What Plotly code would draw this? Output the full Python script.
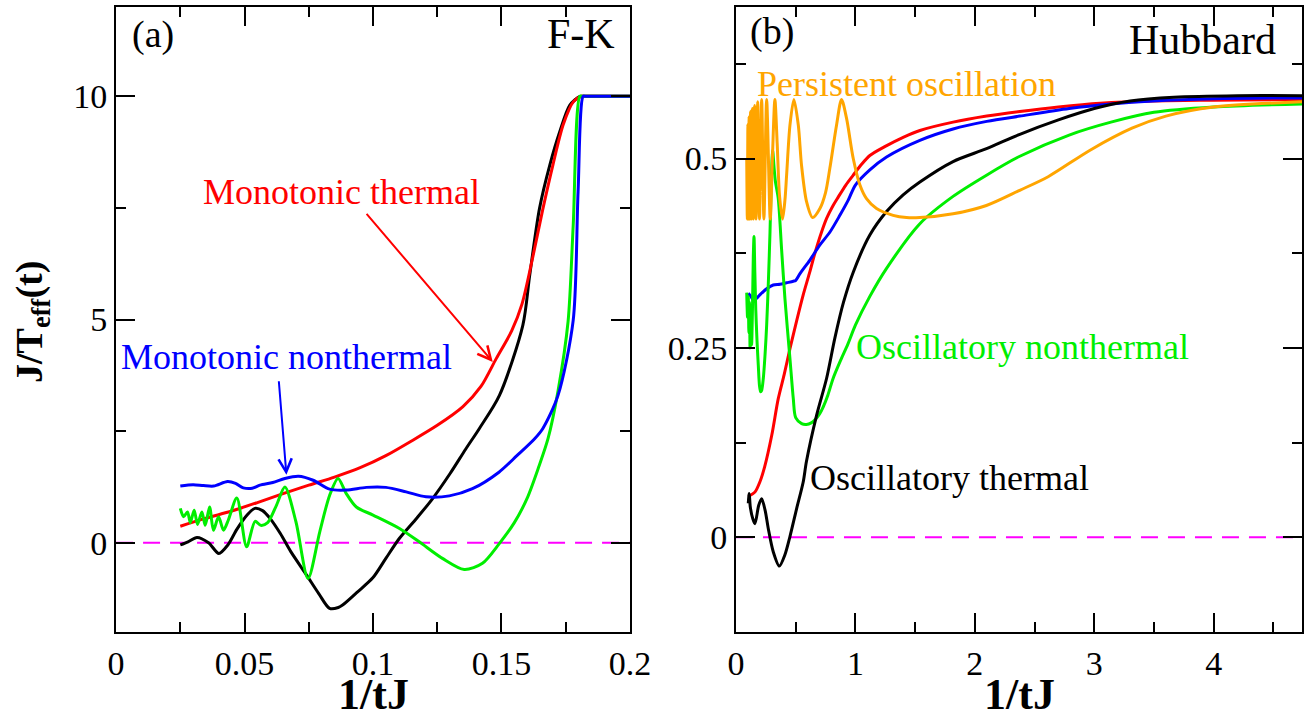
import plotly.graph_objects as go

FONT = "Liberation Serif"

# ---------------- Panel (a): F-K ----------------
fk_red_x = [0.025, 0.035, 0.045, 0.055, 0.065, 0.075, 0.085, 0.095, 0.105, 0.115, 0.125, 0.135,
            0.142, 0.148, 0.154, 0.158, 0.162, 0.166, 0.170, 0.174, 0.178, 0.1812, 0.1822, 0.2]
fk_red_y = [0.37, 0.55, 0.71, 0.90, 1.10, 1.29, 1.47, 1.68, 1.95, 2.28, 2.63, 3.05,
            3.50, 4.13, 4.75, 5.35, 6.35, 7.45, 8.46, 9.36, 9.88, 10.0, 10.0, 10.0]

fk_black_x = [0.025, 0.028, 0.0315, 0.036, 0.040, 0.0435, 0.047, 0.051, 0.054, 0.057, 0.060, 0.064,
              0.068, 0.0741, 0.079, 0.0831, 0.0865, 0.0883, 0.094, 0.100, 0.105, 0.1103, 0.117,
              0.1232, 0.130, 0.1361, 0.1414, 0.1492, 0.1583, 0.161, 0.1648, 0.1688, 0.1727,
              0.1766, 0.1805, 0.1815, 0.2]
fk_black_y = [-0.05, 0.02, 0.12, 0.0, -0.24, -0.05, 0.30, 0.62, 0.77, 0.72, 0.54, 0.20,
              -0.20, -0.72, -1.15, -1.47, -1.45, -1.39, -1.10, -0.78, -0.35, 0.10, 0.55,
              0.99, 1.55, 2.10, 2.56, 3.30, 4.87, 6.00, 7.49, 8.46, 9.21,
              9.80, 10.0, 10.0, 10.0]

fk_green_x = [0.025, 0.0263, 0.0278, 0.0289, 0.0304, 0.0317, 0.0334, 0.0347, 0.0364, 0.0379, 0.0399,
              0.0418, 0.0437, 0.0470, 0.0508, 0.0541, 0.0563, 0.0590, 0.0625, 0.0657, 0.070, 0.0747,
              0.0793, 0.0831, 0.0864, 0.0896, 0.0935, 0.100, 0.1103, 0.118, 0.127, 0.1355, 0.1426,
              0.149, 0.155, 0.160, 0.1645, 0.1681, 0.172, 0.1759, 0.1779, 0.1805, 0.1815, 0.2]
fk_green_y = [0.77, 0.58, 0.69, 0.45, 0.73, 0.41, 0.69, 0.39, 0.80, 0.28, 0.58,
              0.28, 0.51, 1.00, -0.09, 0.48, 0.39, 0.45, 0.85, 1.25, 0.47, -0.80,
              0.25, 1.06, 1.44, 1.10, 0.80, 0.62, 0.32, 0.02, -0.35, -0.60, -0.46,
              -0.03, 0.45, 1.00, 1.70, 2.33, 3.40, 4.95, 7.10, 10.0, 10.0, 10.0]

fk_blue_x = [0.025, 0.030, 0.034, 0.038, 0.0434, 0.0465, 0.0495, 0.053, 0.056, 0.061, 0.0657, 0.071,
             0.0767, 0.0831, 0.0896, 0.0974, 0.105, 0.1129, 0.1206, 0.1297, 0.1387, 0.149, 0.156,
             0.1629, 0.1661, 0.172, 0.1779, 0.1798, 0.1818, 0.1828, 0.2]
fk_blue_y = [1.27, 1.30, 1.28, 1.27, 1.37, 1.33, 1.23, 1.22, 1.29, 1.35, 1.44, 1.49,
             1.40, 1.20, 1.18, 1.24, 1.24, 1.14, 1.03, 1.05, 1.21, 1.58, 1.95,
             2.33, 2.56, 3.30, 4.98, 7.86, 10.0, 10.0, 10.0]

fk_zero_x = [0.0, 0.2]
fk_zero_y = [0.0, 0.0]

fk_xticks = [0, 0.05, 0.1, 0.15, 0.2]
fk_xtick_text = ["0", "0.05", "0.1", "0.15", "0.2"]
fk_yticks = [0, 5, 10]
fk_ytick_text = ["0", "5", "10"]

# ---------------- Panel (b): Hubbard ----------------
hb_red_x = [0.103, 0.16, 0.20, 0.24, 0.30, 0.354, 0.404, 0.452, 0.51, 0.563, 0.614, 0.661, 0.719,
            0.759, 0.81, 0.856, 0.92, 0.982, 1.05, 1.121, 1.25, 1.4, 1.54, 1.818, 2.1, 2.377,
            2.7, 3.05, 3.5, 4.0, 4.74]
hb_red_y = [0.054, 0.060, 0.073, 0.093, 0.135, 0.183, 0.215, 0.249, 0.287, 0.320, 0.348, 0.375, 0.404,
            0.421, 0.437, 0.449, 0.465, 0.478, 0.492, 0.504, 0.516, 0.528, 0.537, 0.548, 0.556, 0.562,
            0.568, 0.573, 0.576, 0.577, 0.578]

hb_blue_x = [0.103, 0.125, 0.145, 0.17, 0.20, 0.257, 0.312, 0.368, 0.424, 0.48, 0.50, 0.536, 0.619,
             0.703, 0.787, 0.87, 0.94, 1.0, 1.121, 1.261, 1.54, 1.818, 2.1, 2.377, 2.79, 3.14,
             3.49, 4.0, 4.74]
hb_blue_y = [0.322, 0.318, 0.313, 0.315, 0.320, 0.328, 0.333, 0.334, 0.336, 0.338, 0.339, 0.348, 0.366,
             0.386, 0.403, 0.425, 0.445, 0.465, 0.485, 0.502, 0.524, 0.539, 0.549, 0.556, 0.566, 0.572,
             0.576, 0.579, 0.580]

hb_black_x = [0.103, 0.111, 0.12, 0.14, 0.159, 0.19, 0.215, 0.245, 0.27, 0.312, 0.363, 0.41, 0.452,
              0.508, 0.563, 0.59, 0.675, 0.759, 0.828, 0.9, 0.982, 1.121, 1.261, 1.4, 1.54, 1.818,
              2.098, 2.377, 2.7, 3.0, 3.3, 3.667, 4.2, 4.74]
hb_black_y = [0.045, 0.058, 0.040, 0.025, 0.018, 0.042, 0.051, 0.035, 0.012, -0.019, -0.038, -0.023, 0.001,
              0.038, 0.073, 0.100, 0.161, 0.210, 0.263, 0.310, 0.350, 0.399, 0.430, 0.452, 0.469, 0.496,
              0.513, 0.532, 0.551, 0.566, 0.576, 0.581, 0.583, 0.583]

hb_green_x = [0.09, 0.097, 0.103, 0.108, 0.113, 0.118, 0.124, 0.131, 0.138, 0.145, 0.151, 0.158, 0.166,
              0.176, 0.187, 0.197, 0.206, 0.215, 0.229, 0.243, 0.257, 0.272, 0.285, 0.296, 0.307,
              0.318, 0.33, 0.354, 0.382, 0.41, 0.452, 0.48, 0.50, 0.55, 0.59, 0.63, 0.661, 0.70,
              0.73, 0.77, 0.814, 0.88, 0.937, 1.0, 1.121, 1.261, 1.54, 1.818, 2.098, 2.377, 2.79,
              3.14, 3.5, 4.0, 4.74]
hb_green_y = [0.323, 0.29, 0.318, 0.27, 0.31, 0.25, 0.30, 0.254, 0.30, 0.37, 0.397, 0.35, 0.30,
              0.26, 0.227, 0.20, 0.192, 0.194, 0.21, 0.24, 0.28, 0.34, 0.403, 0.47, 0.511,
              0.49, 0.47, 0.447, 0.38, 0.315, 0.236, 0.183, 0.158, 0.150, 0.149, 0.151, 0.155, 0.163,
              0.172, 0.188, 0.21, 0.235, 0.255, 0.28, 0.318, 0.355, 0.414, 0.450, 0.478, 0.503, 0.531,
              0.548, 0.561, 0.568, 0.572]

hb_orange_x = [0.090, 0.095, 0.100, 0.105, 0.110, 0.116, 0.122, 0.129, 0.137, 0.146, 0.156, 0.168,
               0.182, 0.197, 0.215, 0.234, 0.257, 0.287, 0.305, 0.326, 0.345, 0.365, 0.39, 0.41,
               0.424, 0.452, 0.485, 0.522, 0.549, 0.591, 0.641, 0.703, 0.75, 0.786, 0.842, 0.884,
               0.926, 0.982, 1.038, 1.093, 1.177, 1.316, 1.428, 1.539, 1.818, 2.097, 2.376, 2.614,
               2.965, 3.316, 3.6, 4.0, 4.74]
hb_orange_y = [0.50, 0.42, 0.545, 0.42, 0.555, 0.42, 0.562, 0.42, 0.566, 0.42, 0.570, 0.42,
               0.575, 0.42, 0.578, 0.42, 0.578, 0.42, 0.50, 0.578, 0.52, 0.45, 0.42, 0.445,
               0.478, 0.544, 0.578, 0.544, 0.491, 0.443, 0.422, 0.434, 0.455, 0.487, 0.544, 0.578,
               0.553, 0.500, 0.465, 0.447, 0.434, 0.425, 0.422, 0.422, 0.427, 0.438, 0.458, 0.476,
               0.511, 0.540, 0.556, 0.568, 0.575]

hb_zero_x = [0.0, 4.74]
hb_zero_y = [0.0, 0.0]

hb_xticks = [0, 1, 2, 3, 4]
hb_xtick_text = ["0", "1", "2", "3", "4"]
hb_yticks = [0, 0.25, 0.5]
hb_ytick_text = ["0", "0.25", "0.5"]

RED, BLUE, GREEN, BLACK, ORANGE, MAGENTA = "#ff0000", "#0000ff", "#00ee00", "#000000", "#ffa500", "#ff00ff"

fig = go.Figure()


def add_line(x, y, color, xa, ya, dash=None, width=3, shape="spline"):
    fig.add_trace(go.Scatter(
        x=x, y=y, mode="lines", xaxis=xa, yaxis=ya, showlegend=False, hoverinfo="skip",
        line=dict(color=color, width=width, dash=dash, shape=shape,
                  smoothing=0.8 if shape == "spline" else None)))


add_line(fk_zero_x, fk_zero_y, MAGENTA, "x", "y", dash="17px,10px", width=2, shape="linear")
add_line(fk_black_x, fk_black_y, BLACK, "x", "y")
add_line(fk_red_x, fk_red_y, RED, "x", "y")
add_line(fk_green_x, fk_green_y, GREEN, "x", "y")
add_line(fk_blue_x, fk_blue_y, BLUE, "x", "y")

add_line(hb_zero_x, hb_zero_y, MAGENTA, "x2", "y2", dash="17px,10px", width=2, shape="linear")
add_line(hb_red_x, hb_red_y, RED, "x2", "y2")
add_line(hb_blue_x, hb_blue_y, BLUE, "x2", "y2")
add_line(hb_green_x, hb_green_y, GREEN, "x2", "y2")
add_line(hb_black_x, hb_black_y, BLACK, "x2", "y2")
add_line(hb_orange_x, hb_orange_y, ORANGE, "x2", "y2")

tickfont = dict(family=FONT, size=34, color="black")
common = dict(showline=True, linewidth=2, linecolor="black", mirror="ticks",
              ticks="inside", ticklen=19, tickwidth=2, tickcolor="black",
              showgrid=False, zeroline=False, tickfont=tickfont, automargin=False,
              tickmode="array")

YDOM = [0.1234, 0.9903]
fig.update_layout(
    width=1307, height=721,
    margin=dict(l=0, r=0, t=0, b=0),
    paper_bgcolor="white", plot_bgcolor="white",
    xaxis=dict(domain=[0.0888, 0.482], range=[0, 0.2], anchor="y",
               tickvals=fk_xticks, ticktext=fk_xtick_text,
               minor=dict(dtick=0.025, tick0=0, ticks="inside", ticklen=10, tickwidth=2, tickcolor="black"),
               **common),
    yaxis=dict(domain=YDOM, range=[-2, 12], anchor="x",
               tickvals=fk_yticks, ticktext=fk_ytick_text,
               minor=dict(dtick=2.5, tick0=0, ticks="inside", ticklen=10, tickwidth=2, tickcolor="black"),
               **common),
    xaxis2=dict(domain=[0.5631, 0.9962], range=[0, 4.74], anchor="y2",
                tickvals=hb_xticks, ticktext=hb_xtick_text,
                minor=dict(dtick=0.5, tick0=0, ticks="inside", ticklen=10, tickwidth=2, tickcolor="black"),
                **common),
    yaxis2=dict(domain=YDOM, range=[-0.125, 0.7], anchor="x2",
                tickvals=hb_yticks, ticktext=hb_ytick_text,
                minor=dict(dtick=0.125, tick0=0, ticks="inside", ticklen=10, tickwidth=2, tickcolor="black"),
                **common),
)


def label(text, x, y, xref, yref, size, color="black", xanchor="left", yanchor="middle", bold=False, angle=0):
    fig.add_annotation(text=text, x=x, y=y, xref=xref, yref=yref, showarrow=False,
                       xanchor=xanchor, yanchor=yanchor, textangle=angle,
                       font=dict(family=FONT, size=size, color=color, weight="bold" if bold else "normal"))


label("(a)", 0.0055, 11.38, "x", "y", 38)
label("F-K", 0.1949, 11.39, "x", "y", 42, xanchor="right")
label("Monotonic thermal", 0.0332, 7.85, "x", "y", 36, color=RED)
label("Monotonic nonthermal", 0.001, 4.17, "x", "y", 36, color=BLUE)

label("(b)", 0.10, 0.667, "x2", "y2", 38)
label("Hubbard", 4.536, 0.657, "x2", "y2", 42, xanchor="right")
label("Persistent oscillation", 0.159, 0.598, "x2", "y2", 36, color=ORANGE)
label("Oscillatory nonthermal", 0.987, 0.251, "x2", "y2", 36, color=GREEN)
label("Oscillatory thermal", 0.603, 0.078, "x2", "y2", 36, color=BLACK)

# axis titles
label("1/tJ", 0.2854, 0.0, "paper", "paper", 44, xanchor="center", yanchor="bottom", bold=True)
label("1/tJ", 0.7797, 0.0, "paper", "paper", 44, xanchor="center", yanchor="bottom", bold=True)
label("J/T<sub>eff</sub>(t)", 0.0245, 0.5534, "paper", "paper", 38, xanchor="center", bold=True, angle=-90)

# arrows
fig.add_annotation(x=0.1466, y=4.05, ax=0.097, ay=7.4, xref="x", yref="y", axref="x", ayref="y",
                   text="", showarrow=True, arrowhead=5, arrowsize=1.3, arrowwidth=2, arrowcolor=RED)
fig.add_annotation(x=0.0663, y=1.52, ax=0.0633, ay=3.65, xref="x", yref="y", axref="x", ayref="y",
                   text="", showarrow=True, arrowhead=5, arrowsize=1.3, arrowwidth=2, arrowcolor=BLUE)

fig.write_html("out.html")
